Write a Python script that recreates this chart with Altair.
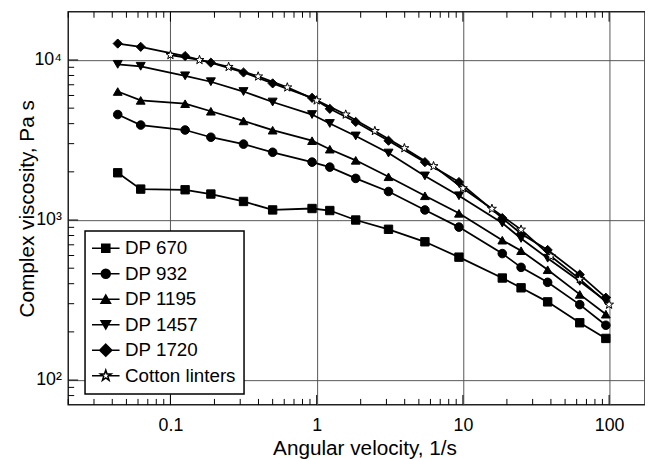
import altair as alt
import pandas as pd

# ---------------- data ----------------
series_names = ["DP 670", "DP 932", "DP 1195", "DP 1457", "DP 1720", "Cotton linters"]

dp_omega = [0.0436, 0.0626, 0.126, 0.189, 0.316, 0.5, 0.93, 1.23, 1.85, 3.1, 5.5, 9.4,
            18.6, 25, 38, 63, 95]
cotton_omega = [0.1, 0.158, 0.25, 0.398, 0.63, 1.0, 1.58, 2.5, 3.98, 6.3, 10, 15.8,
                25, 40, 63, 100]

dp670 = [1973, 1560, 1545, 1453, 1306, 1156, 1180, 1146, 1000, 875, 731, 586, 434, 377, 308, 228, 182]
dp932 = [4560, 3920, 3650, 3290, 2980, 2650, 2300, 2140, 1820, 1507, 1156, 903, 617, 506, 408, 296, 220]
dp1195 = [6350, 5590, 5330, 4780, 4160, 3640, 3130, 2770, 2360, 1863, 1417, 1101, 748, 643, 489, 343, 258]
dp1457 = [9390, 9130, 7960, 7310, 6350, 5460, 4560, 4010, 3350, 2620, 1885, 1417, 957, 767, 577, 414, 312]
dp1720 = [12660, 12080, 10580, 9620, 8350, 7140, 5800, 4950, 4100, 3130, 2300, 1727, 1028, 820, 650, 456, 327]
cotton = [10740, 10000, 9050, 7890, 6740, 5590, 4560, 3600, 2810, 2170, 1580, 1175, 871, 594, 427, 296]

x_major = [0.1, 1, 10, 100]
x_minor = [0.02, 0.03, 0.04, 0.05, 0.06, 0.07, 0.08, 0.09,
           0.2, 0.3, 0.4, 0.5, 0.6, 0.7, 0.8, 0.9,
           2, 3, 4, 5, 6, 7, 8, 9,
           20, 30, 40, 50, 60, 70, 80, 90]
y_major = [100, 1000, 10000]
y_minor = [80, 90, 200, 300, 400, 500, 600, 700, 800, 900,
           2000, 3000, 4000, 5000, 6000, 7000, 8000, 9000]

# ---------------- styles ----------------
FONT = "Liberation Sans"
W, H = 584, 398

star = ("M0,-1L0.235,-0.324L0.951,-0.309L0.38,0.124L0.588,0.809L0,0.4"
        "L-0.588,0.809L-0.38,0.124L-0.951,-0.309L-0.235,-0.324Z")
plot_shapes = ["square", "circle", "triangle-up", "triangle-down", "diamond", star]
plot_sizes = [72, 90, 110, 110, 165, 195]
fills = ["black", "black", "black", "black", "black", "white"]
strokes = ["black"] * 6

LINE = "M-3.1,0L3.1,0"
legend_shapes = [
    LINE + "M-0.9,-0.9L0.9,-0.9L0.9,0.9L-0.9,0.9Z",
    LINE + "M1,0A1,1,0,1,1,-1,0A1,1,0,1,1,1,0Z",
    LINE + "M0,-0.95L1.05,0.9L-1.05,0.9Z",
    LINE + "M0,0.95L1.05,-0.9L-1.05,-0.9Z",
    LINE + "M0,-1.35L1.35,0L0,1.35L-1.35,0Z",
    "M-3.1,0L-0.68,0M0.68,0L3.1,0"
    "M0,-1.25L0.294,-0.405L1.189,-0.386L0.475,0.155L0.735,1.011L0,0.5"
    "L-0.735,1.011L-0.475,0.155L-1.189,-0.386L-0.294,-0.405Z",
]

# ---------------- tables ----------------
rows = []
for name, vals in zip(series_names[:5], [dp670, dp932, dp1195, dp1457, dp1720]):
    for o, v in zip(dp_omega, vals):
        rows.append({"omega": o, "eta": v, "series": name})
for o, v in zip(cotton_omega, cotton):
    rows.append({"omega": o, "eta": v, "series": "Cotton linters"})
df = pd.DataFrame(rows)

x_scale = alt.Scale(type="log", domain=[0.02, 176], nice=False)
y_scale = alt.Scale(type="log", domain=[70, 20000], nice=False)

x_axis = alt.Axis(values=x_major, format="~g", ticks=False, domain=False, grid=True,
                  gridColor="#555555", gridWidth=1, labelFont=FONT, labelFontSize=18,
                  labelColor="black", labelPadding=12, labelOverlap=False,
                  title="Angular velocity, 1/s", titleFont=FONT, titleFontSize=21,
                  titleFontWeight="normal", titleColor="black", titlePadding=3, titleX=300)
y_axis = alt.Axis(values=y_major,
                  labelExpr="datum.value == 100 ? '10²' : datum.value == 1000 ? '10³' : '10⁴'",
                  ticks=False, domain=False, grid=True, gridColor="#555555", gridWidth=1,
                  labelFont=FONT, labelFontSize=18, labelColor="black", labelPadding=7,
                  labelOverlap=False,
                  title="Complex viscosity, Pa s", titleFont=FONT, titleFontSize=21,
                  titleFontWeight="normal", titleColor="black", titlePadding=-4)

X = lambda: alt.X("omega:Q", scale=x_scale, axis=x_axis)
Y = lambda: alt.Y("eta:Q", scale=y_scale, axis=y_axis)

xmin_df = pd.DataFrame({"omega": x_minor})
xmaj_df = pd.DataFrame({"omega": x_major})
ymin_df = pd.DataFrame({"eta": y_minor})
ymaj_df = pd.DataFrame({"eta": y_major})

tick = dict(color="black", strokeWidth=1)
bottom_minor = alt.Chart(xmin_df).mark_rule(**tick).encode(x=X(), y=alt.value(H), y2=alt.value(H - 6))
top_minor = alt.Chart(xmin_df).mark_rule(**tick).encode(x=X(), y=alt.value(0), y2=alt.value(6))
bottom_major = alt.Chart(xmaj_df).mark_rule(**tick).encode(x=X(), y=alt.value(H), y2=alt.value(H - 10))
top_major = alt.Chart(xmaj_df).mark_rule(**tick).encode(x=X(), y=alt.value(0), y2=alt.value(10))
left_minor = alt.Chart(ymin_df).mark_rule(**tick).encode(y=Y(), x=alt.value(0), x2=alt.value(6))
left_major = alt.Chart(ymaj_df).mark_rule(**tick).encode(y=Y(), x=alt.value(0), x2=alt.value(10))

lines = alt.Chart(df).mark_line(color="black", strokeWidth=1.8).encode(
    x=X(), y=Y(), detail="series:N")

points = alt.Chart(df).mark_point(filled=True, stroke="black", strokeWidth=1, opacity=1).encode(
    x=X(), y=Y(),
    shape=alt.Shape("series:N", scale=alt.Scale(domain=series_names, range=plot_shapes), legend=None),
    fill=alt.Fill("series:N", scale=alt.Scale(domain=series_names, range=fills), legend=None),
    size=alt.Size("series:N", scale=alt.Scale(domain=series_names, range=plot_sizes), legend=None),
)

leg = alt.Legend(title=None, orient="none", legendX=17, legendY=222, padding=8,
                 strokeColor="black", fillColor="white", symbolSize=81, symbolOpacity=1,
                 symbolStrokeWidth=1.6, symbolStrokeColor="black", symbolOffset=3.5,
                 labelOffset=10, labelFont=FONT, labelFontSize=19, labelColor="black",
                 rowPadding=5.8, cornerRadius=0)

# carries only the legend: all of its rows are filtered away, domains are explicit
legend_carrier = alt.Chart(df).transform_filter("datum.eta < 0").mark_point(
    filled=True, stroke="black", strokeWidth=1.5).encode(
    x=X(), y=Y(),
    shape=alt.Shape("series:N", scale=alt.Scale(domain=series_names, range=legend_shapes), legend=leg),
    fill=alt.Fill("series:N", scale=alt.Scale(domain=series_names, range=fills), legend=leg),
    stroke=alt.Stroke("series:N", scale=alt.Scale(domain=series_names, range=strokes), legend=leg),
)

chart = alt.layer(
    bottom_minor, top_minor, bottom_major, top_major, left_minor, left_major,
    lines, points, legend_carrier,
).resolve_scale(shape="independent", fill="independent", size="independent",
                stroke="independent").properties(
    width=W, height=H,
    autosize=alt.AutoSizeParams(type="none"),
    padding={"left": 61, "top": 1, "right": 0, "bottom": 52},
    background="white",
).configure_view(stroke="#222222", strokeWidth=1.5).configure_legend(strokeWidth=1.5)

chart.save("out.html", embed_options={"renderer": "svg", "actions": False})
